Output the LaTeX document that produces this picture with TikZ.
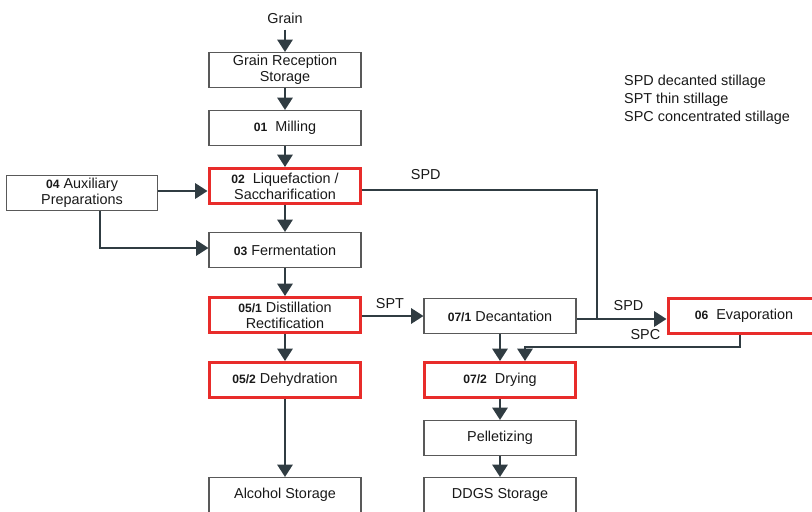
\documentclass[tikz,border=0pt]{standalone}
\usepackage{fontspec}
\setmainfont{Liberation Sans}
\usetikzlibrary{positioning,arrows.meta,calc}
\definecolor{linegray}{RGB}{48,60,66}
\definecolor{boxred}{RGB}{232,44,42}
\newcommand{\nr}[1]{{\fontsize{6.9}{8}\selectfont\bfseries #1}}

\begin{document}
\begin{tikzpicture}[x=0.02cm,y=-0.02cm,
	every node/.style={font=\fontsize{8.2}{9.2}\selectfont,text=black!90,align=center},
	box/.style={draw=black!65,line width=0.6pt,minimum width=3.04cm,minimum height=0.7cm,inner sep=1pt},
	redbox/.style={box,draw=boxred,line width=1.7pt},
	flow/.style={draw=linegray,line width=1.4pt,-{Triangle[length=7pt,width=8.6pt]}},
	link/.style={draw=linegray,line width=1.4pt}]
	\useasboundingbox (0,0) rectangle (812,511);
	\clip (0,0) rectangle (812,511);

	%main column
	\node (grain) at (285,18) {Grain};
	\node [box] (recv) at (285,70) {Grain Reception\\Storage};
	\node [box] (mill) at (285,128) {\nr{01}\ \ Milling};
	\node [redbox] (liq) at (285,186) {\nr{02}\ \ Liquefaction /\\Saccharification};
	\node [box,minimum width=3.02cm] (aux) at (82,193) {\nr{04}\ Auxiliary\\Preparations};
	\node [box] (ferm) at (285,250) {\nr{03} Fermentation};
	\node [redbox] (dist) at (285,315) {\nr{05/1} Distillation\\Rectification};
	\node [redbox] (dehy) at (285,380) {\nr{05/2} Dehydration};
	\node [box] (alc) at (285,495) {Alcohol Storage};

	%stillage column
	\node [box] (dec) at (500,316) {\nr{07/1} Decantation};
	\node [redbox] (evap) at (744,316) {\nr{06}\ \ Evaporation};
	\node [redbox] (dry) at (500,380) {\nr{07/2}\ \ Drying};
	\node [box] (pell) at (500,438) {Pelletizing};
	\node [box] (ddgs) at (500,495) {DDGS Storage};

	%legend
	\node [anchor=west,align=left,font=\fontsize{8.2}{10.2}\selectfont] (legend) at (618,100)
		{SPD decanted stillage\\SPT thin stillage\\SPC concentrated stillage};

	%edges
	\draw[flow] (grain) -- (recv);
	\draw[flow] (recv) -- (mill);
	\draw[flow] (mill) -- (liq);
	\draw[flow] (liq) -- (ferm);
	\draw[flow] (ferm) -- (dist);
	\draw[flow] (dist) -- (dehy);
	\draw[flow] (dehy) -- (alc);
	\draw[flow] ($(aux.east)+(0,-2)$) -- ($(aux.east -| liq.west)+(0,-2)$);
	\draw[flow] ($(aux.south)+(18,0)$) |- ($(ferm.west)+(0,-2)$);
	\draw[flow] ($(dist.east)+(0,1)$) -- node[above,pos=0.45] {SPT} ($(dist.east -| dec.west)+(0,1)$);
	\coordinate (join) at (597,319);
	\draw[link] ($(liq.east)+(0,4)$) -- node[above,pos=0.27,yshift=2pt] {SPD} ($(liq.east -| join)+(0,4)$) -- (join);
	\draw[flow] ($(dec.east)+(0,3)$) -- node[above,pos=0.5,xshift=4pt,yshift=1pt] {SPD} ($(evap.west)+(0,3)$);
	\draw[flow] (dec) -- (dry);
	\draw[flow] ($(evap.south)+(-4,0)$) |- node[above,pos=0.72] {SPC} ($(dry.north)+(25,-14)$) -- ($(dry.north)+(25,0)$);
	\draw[flow] (dry) -- (pell);
	\draw[flow] (pell) -- (ddgs);
\end{tikzpicture}
\end{document}
